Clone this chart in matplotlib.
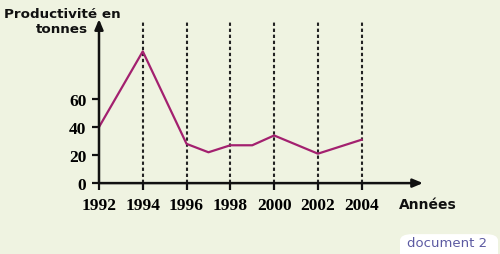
import matplotlib.pyplot as plt
from matplotlib.patches import FancyBboxPatch

years = [1992, 1994, 1996, 1997, 1998, 1999, 2000, 2002, 2004]
productivite = [40, 94, 28, 22, 27, 27, 34, 21, 31]
xticks = [1992, 1994, 1996, 1998, 2000, 2002, 2004]
yticks = [0, 20, 40, 60]
grid_years = [1994, 1996, 1998, 2000, 2002, 2004]

bg = '#eff3e1'
line_color = '#a3206f'

fig = plt.figure(figsize=(5, 2.55), dpi=100, facecolor=bg)
ax = fig.add_axes([0.198, 0.278, 0.648, 0.643])
ax.set_facecolor(bg)
ax.set_xlim(1992, 2006.8)
ax.set_ylim(0, 117)

for y in grid_years:
    ax.plot([y, y], [0, 115], color='#222222', lw=1.5, ls=(0, (1.6, 1.3)), zorder=1)

ax.plot(years, productivite, color=line_color, lw=1.6, zorder=3, clip_on=False)

for s in ax.spines.values():
    s.set_visible(False)

# axes with arrows
ax.annotate('', xy=(0, 1.0), xytext=(0, 0), xycoords='axes fraction',
            arrowprops=dict(arrowstyle='-|>,head_length=0.6,head_width=0.25',
                            color='#111111', lw=1.8, shrinkA=0, shrinkB=0))
ax.annotate('', xy=(1.0, 0), xytext=(0, 0), xycoords='axes fraction',
            arrowprops=dict(arrowstyle='-|>,head_length=0.6,head_width=0.25',
                            color='#111111', lw=1.8, shrinkA=0, shrinkB=0))

ax.set_xticks(xticks)
ax.set_yticks(yticks)
ax.tick_params(axis='both', direction='out', length=5, width=1.6, color='#111111')
ax.tick_params(axis='x', pad=5)
ax.tick_params(axis='y', pad=4)
tick_font = dict(family='Liberation Serif', weight='bold', size=12.5)
ax.set_xticklabels([str(t) for t in xticks], **tick_font)
ax.set_yticklabels([str(t) for t in yticks], **tick_font)

fig.text(0.124, 0.913, 'Productivité en\ntonnes', ha='center', va='center',
         fontsize=9.7, fontweight='bold', family='DejaVu Sans', color='#111111',
         linespacing=1.15)
fig.text(0.856, 0.195, 'Années', ha='center', va='center',
         fontsize=10, fontweight='bold', family='DejaVu Sans', color='#111111')

box = FancyBboxPatch((0.8, -0.03), 0.196, 0.108, boxstyle='round,pad=0,rounding_size=0.025',
                     transform=fig.transFigure, facecolor='white', edgecolor='none')
fig.patches.append(box)
fig.text(0.894, 0.045, 'document 2', ha='center', va='center', fontsize=9.5,
         family='DejaVu Sans', color='#5c5aa2')

fig.savefig('out.png', dpi=100, facecolor=bg)
